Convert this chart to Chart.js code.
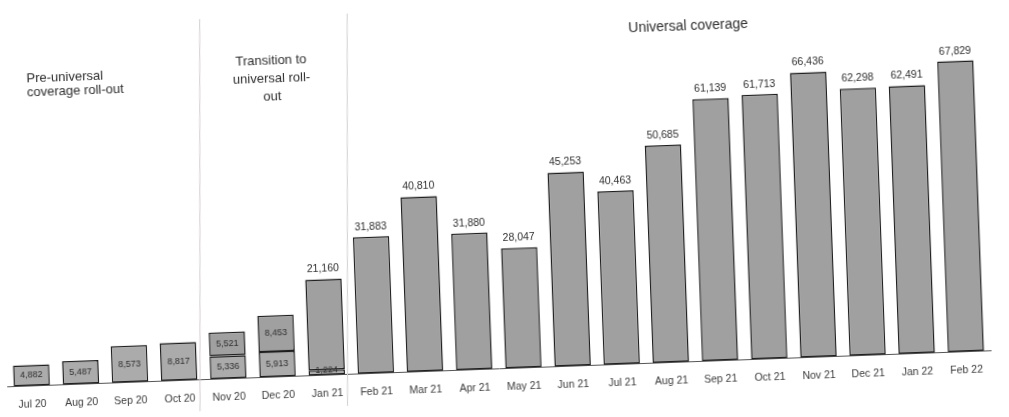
<!DOCTYPE html>
<html>
<head>
<meta charset="utf-8">
<script src="https://cdn.jsdelivr.net/npm/chart.js@4/dist/chart.umd.min.js"></script>
<style>
  html, body { margin: 0; padding: 0; background: #fff; overflow: hidden; width: 1009px; height: 417px; }
  #wrap { position: relative; left: -10px; width: 1020px; height: 417px; transform: rotate(-2.1deg); transform-origin: 514px 208px; }
</style>
</head>
<body>
<div id="wrap"><canvas id="rollout" width="1020" height="417"></canvas></div>
<script>
const months = ['Jul 20', 'Aug 20', 'Sep 20', 'Oct 20', 'Nov 20', 'Dec 20', 'Jan 21', 'Feb 21', 'Mar 21', 'Apr 21',
  'May 21', 'Jun 21', 'Jul 21', 'Aug 21', 'Sep 21', 'Oct 21', 'Nov 21', 'Dec 21', 'Jan 22', 'Feb 22'];
// earlier coverage (bottom segments)
const preUniversal = [4882, 5487, 8573, 8817, 5336, 5913, 1224, null, null, null,
  null, null, null, null, null, null, null, null, null, null];
// universal coverage (top segments)
const universal = [null, null, null, null, 5521, 8453, 21160, 31883, 40810, 31880,
  28047, 45253, 40463, 50685, 61139, 61713, 66436, 62298, 62491, 67829];
const phases = [
  { lines: ['Pre-universal', 'coverage roll-out'], at: 0.12, y: 61, lh: 14, align: 'left' },
  { lines: ['Transition to', 'universal roll-', 'out'], at: 5.1, y: 52, lh: 18, align: 'center' },
  { lines: ['Universal coverage'], at: 13.6, y: 33, lh: 14, align: 'center' }
];
const dividers = [3.5, 6.5];

const fmt = v => v.toLocaleString('en-US');

const annotate = {
  id: 'annotate',
  afterDatasetsDraw(chart) {
    const ctx = chart.ctx;
    const x = chart.scales.x;
    ctx.save();
    // phase dividers, leaning so they come out upright after the page tilt
    ctx.strokeStyle = '#d4cfd0';
    ctx.lineWidth = 1;
    dividers.forEach(d => {
      const px = x.getPixelForValue(d) + 2;
      ctx.beginPath();
      ctx.moveTo(px + 7, 8);
      ctx.lineTo(px - 7, 400);
      ctx.stroke();
    });

    ctx.fillStyle = '#2e2e2e';
    ctx.textBaseline = 'middle';
    ctx.textAlign = 'center';
    // labels inside the early bars
    ctx.font = '9px "Liberation Sans", Arial, sans-serif';
    chart.getDatasetMeta(0).data.forEach((el, i) => {
      const v = preUniversal[i];
      if (v == null) return;
      ctx.fillText(fmt(v), el.x, Math.min((el.y + el.base) / 2, el.base - 5));
    });
    chart.getDatasetMeta(1).data.forEach((el, i) => {
      const v = universal[i];
      if (v == null) return;
      if (i < 6) {
        ctx.font = '9px "Liberation Sans", Arial, sans-serif';
        ctx.fillText(fmt(v), el.x, (el.y + el.base) / 2);
      } else {
        ctx.font = '10.5px "Liberation Sans", Arial, sans-serif';
        ctx.fillText(fmt(v), el.x, el.y - 10);
      }
    });

    // phase headings
    phases.forEach(p => {
      ctx.font = (p.lines.length === 1 ? '14px' : '13px') + ' "Liberation Sans", Arial, sans-serif';
      ctx.textAlign = p.align;
      const px = x.getPixelForValue(p.at);
      p.lines.forEach((t, k) => ctx.fillText(t, px, p.y + k * p.lh));
    });
    ctx.restore();
  }
};

new Chart(document.getElementById('rollout').getContext('2d'), {
  type: 'bar',
  data: {
    labels: months,
    datasets: [{
      label: 'Pre-universal',
      data: preUniversal,
      backgroundColor: '#ababab',
      borderColor: '#1e1e1e',
      borderWidth: 1.5,
      borderSkipped: false,
      barPercentage: 0.74,
      categoryPercentage: 1
    }, {
      label: 'Universal',
      data: universal,
      backgroundColor: '#a0a0a0',
      borderColor: '#1e1e1e',
      borderWidth: 1.5,
      borderSkipped: false,
      barPercentage: 0.74,
      categoryPercentage: 1
    }]
  },
  options: {
    responsive: false,
    animation: false,
    layout: { padding: { left: 11, right: 25, top: 4, bottom: 20 } },
    plugins: { legend: { display: false }, tooltip: { enabled: false } },
    scales: {
      x: {
        stacked: true,
        grid: { display: false },
        border: { display: true, color: '#555', width: 1 },
        ticks: { color: '#3a3a3a', padding: 4, maxRotation: 0, autoSkip: false,
          font: { size: 10.5, family: '"Liberation Sans", Arial, sans-serif' } }
      },
      y: {
        stacked: true,
        display: false,
        min: 0,
        max: 85000
      }
    }
  },
  plugins: [annotate]
});
</script>
</body>
</html>
